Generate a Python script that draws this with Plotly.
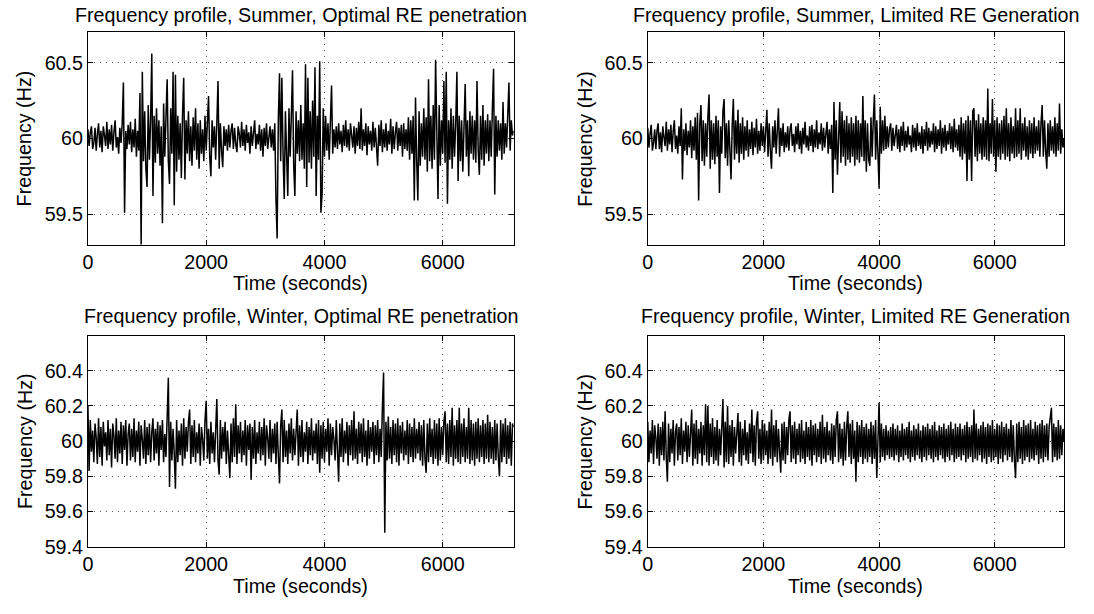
import plotly.graph_objects as go

FONT = "Liberation Sans, Arial, Helvetica, sans-serif"
STEP_S = 20  # sample spacing of the lists below, in seconds

summer_optimal = [
    60.06, 59.95, 60.04, 60.08, 59.93, 59.97, 60.07, 59.92, 60.03, 60.10,
    59.94, 60.05, 59.91, 60.08, 60.02, 59.95, 60.11, 59.93, 60.06, 59.96,
    60.09, 59.92, 60.04, 60.12, 59.94, 60.01, 59.90, 60.07, 59.97, 60.10,
    60.37, 59.51, 60.05, 59.93, 60.09, 59.96, 60.11, 59.91, 60.06, 59.94,
    60.13, 59.88, 60.05, 59.92, 60.30, 59.28, 60.44, 59.85, 60.18, 59.80,
    59.68, 60.22, 59.86, 60.12, 60.56, 59.62, 60.15, 59.84, 60.20, 59.90,
    60.12, 59.82, 60.08, 59.44, 60.23, 59.88, 60.14, 60.39, 59.85, 59.70,
    60.20, 59.90, 60.44, 59.56, 60.42, 59.78, 60.15, 59.86, 60.10, 59.74,
    60.16, 60.40, 59.73, 60.12, 59.90, 60.18, 59.85, 60.08, 59.82, 60.14,
    59.92, 60.20, 59.86, 60.10, 59.80, 60.12, 59.90, 60.06, 59.85, 60.15,
    59.92, 60.09, 60.28, 59.88, 59.75, 60.12, 59.94, 60.08, 59.86, 60.10,
    60.38, 59.80, 60.10, 59.92, 59.81, 60.08, 59.95, 60.06, 59.92, 60.09,
    59.94, 60.05, 60.10, 59.93, 60.07, 59.96, 59.91, 60.08, 60.03, 59.94,
    60.11, 59.95, 60.06, 59.92, 60.09, 59.97, 60.04, 59.90, 60.08, 59.95,
    60.05, 60.12, 59.93, 60.03, 59.96, 60.09, 59.92, 60.06, 59.88, 60.07,
    59.95, 60.10, 59.93, 60.04, 60.08, 59.94, 60.06, 59.92, 60.10, 59.60,
    59.34, 60.12, 60.43, 59.85, 60.40, 59.90, 59.60, 60.18, 59.86, 59.62,
    60.20, 59.88, 60.15, 60.45, 59.82, 59.62, 60.18, 59.90, 60.12, 59.85,
    60.22, 59.86, 60.10, 59.80, 60.49, 59.68, 60.40, 59.84, 60.18, 59.80,
    60.25, 59.88, 60.47, 59.62, 60.15, 59.86, 60.51, 59.51, 59.63, 60.20,
    59.88, 60.15, 59.92, 60.10, 59.86, 60.12, 60.35, 59.90, 60.06, 59.94,
    60.08, 59.93, 60.10, 59.96, 60.05, 59.91, 60.09, 59.95, 60.12, 59.94,
    60.06, 59.92, 60.10, 60.02, 59.94, 60.08, 59.90, 60.07, 59.95, 60.11,
    59.93, 60.20, 59.92, 60.06, 59.95, 60.10, 59.89, 60.08, 59.96, 60.05,
    59.92, 60.11, 59.94, 60.07, 59.93, 59.82, 60.09, 59.95, 60.12, 59.91,
    60.06, 59.94, 60.10, 59.92, 60.05, 59.96, 60.13, 59.90, 60.08, 59.93,
    60.04, 60.11, 59.92, 60.07, 59.95, 60.09, 59.88, 60.10, 59.93, 60.06,
    59.92, 60.14, 59.86, 60.12, 59.90, 60.15, 59.59, 60.27, 59.85, 59.59,
    60.18, 59.82, 60.10, 59.88, 60.20, 59.86, 60.14, 59.78, 60.39, 59.85,
    60.15, 59.80, 60.22, 59.86, 60.52, 59.88, 59.60, 60.22, 59.82, 60.12,
    59.90, 60.38, 59.84, 60.44, 59.57, 60.12, 59.86, 60.20, 59.80, 60.15,
    59.88, 60.10, 60.44, 59.72, 60.15, 59.85, 60.12, 59.78, 60.20, 60.36,
    59.88, 60.12, 59.75, 60.18, 59.90, 60.15, 59.86, 60.12, 59.84, 60.38,
    59.92, 59.76, 60.15, 59.86, 60.22, 59.82, 60.12, 59.90, 60.16, 59.85,
    60.12, 59.88, 60.20, 60.46, 59.63, 60.15, 59.88, 60.12, 59.92, 60.10,
    59.86, 60.24, 59.90, 60.10, 59.94, 60.15, 60.37, 59.92, 60.12, 60.02,
    60.05,
]

summer_limited = [
    60.07, 59.94, 60.03, 60.09, 59.92, 59.97, 60.06, 59.93, 60.05, 60.10,
    59.93, 60.04, 59.91, 60.08, 60.01, 59.95, 60.11, 59.92, 60.06, 59.96,
    60.09, 59.91, 60.05, 60.12, 59.93, 60.02, 59.90, 60.08, 59.95, 60.20,
    59.73, 60.06, 59.92, 60.10, 59.89, 60.05, 59.94, 60.12, 59.87, 60.08,
    59.92, 60.14, 59.86, 60.17, 59.59, 60.10, 60.22, 59.85, 60.12, 59.82,
    60.10, 59.88, 60.14, 60.29, 59.80, 60.12, 59.86, 60.10, 59.83, 60.15,
    59.88, 60.12, 59.64, 60.08, 59.90, 60.18, 60.26, 59.87, 60.10, 59.82,
    60.12, 59.88, 59.73, 60.08, 60.26, 59.86, 60.12, 59.90, 60.19, 59.84,
    60.10, 59.90, 60.14, 59.86, 60.08, 59.92, 60.12, 59.88, 60.06, 59.93,
    60.11, 59.89, 60.07, 59.94, 60.13, 59.90, 60.05, 59.92, 60.10, 59.95,
    60.08, 59.91, 60.06, 60.19, 59.88, 60.10, 59.92, 59.80, 60.08, 59.94,
    60.12, 59.90, 60.05, 60.20, 59.88, 60.07, 59.95, 60.10, 59.91, 60.04,
    59.94, 60.08, 59.92, 60.06, 60.10, 59.95, 60.03, 59.91, 60.08, 59.96,
    60.10, 59.93, 60.05, 59.90, 60.07, 59.96, 60.11, 59.94, 60.02, 59.92,
    60.08, 59.95, 60.09, 59.91, 60.06, 59.94, 60.12, 59.93, 60.04, 59.96,
    60.10, 59.92, 60.07, 59.94, 60.03, 60.11, 59.90, 60.06, 59.93, 60.09,
    59.64, 60.24, 59.86, 60.12, 59.76, 60.10, 60.24, 59.84, 60.18, 59.88,
    60.12, 59.82, 60.15, 59.86, 60.10, 59.84, 60.14, 59.88, 60.10, 59.82,
    60.15, 59.86, 60.12, 59.84, 60.10, 59.88, 60.28, 59.85, 60.12, 59.78,
    60.10, 59.86, 59.82, 60.14, 59.88, 60.12, 60.29, 59.86, 60.12, 59.90,
    59.67, 60.21, 59.90, 60.12, 59.92, 60.15, 59.93, 60.08, 59.94, 60.06,
    60.10, 59.92, 60.07, 59.95, 60.03, 60.09, 59.93, 60.06, 59.91, 60.08,
    59.95, 60.11, 59.92, 60.05, 59.94, 60.08, 59.96, 60.02, 59.91, 60.09,
    59.94, 60.07, 59.92, 60.10, 59.95, 60.04, 59.93, 60.08, 59.90, 60.06,
    59.95, 60.11, 59.92, 60.07, 59.94, 60.05, 59.96, 60.10, 59.91, 60.08,
    59.93, 60.06, 59.95, 60.12, 59.90, 60.07, 59.94, 60.09, 59.92, 60.05,
    59.96, 60.10, 59.93, 60.08, 59.91, 60.13, 59.94, 60.06, 59.92, 60.09,
    59.88, 60.14, 59.86, 60.10, 59.90, 60.12, 59.72, 60.15, 59.86, 60.12,
    59.72, 60.18, 60.20, 59.88, 60.12, 59.85, 60.16, 59.90, 60.10, 59.86,
    60.14, 59.88, 60.12, 59.86, 60.33, 59.85, 60.10, 59.90, 60.26, 59.88,
    60.12, 59.78, 60.14, 59.88, 60.10, 59.86, 60.12, 59.90, 60.15, 59.86,
    60.20, 59.88, 60.10, 59.85, 60.14, 59.90, 60.08, 59.87, 60.20, 59.88,
    60.12, 59.90, 60.20, 59.86, 60.10, 59.92, 60.14, 59.88, 60.08, 59.86,
    60.12, 59.90, 60.10, 59.87, 60.14, 59.90, 60.08, 59.92, 60.12, 59.88,
    60.10, 60.22, 59.88, 60.12, 59.92, 59.80, 60.10, 59.88, 60.12, 59.92,
    60.08, 59.90, 60.14, 59.88, 60.10, 59.92, 60.23, 59.90, 60.06, 59.94,
    60.00,
]

winter_optimal = [
    60.20, 59.83, 60.12, 59.94, 60.06, 59.88, 60.10, 60.02, 59.87, 60.13,
    59.91, 60.08, 59.86, 60.11, 59.97, 60.05, 59.89, 60.12, 59.92, 60.07,
    59.85, 60.10, 60.03, 59.90, 60.13, 59.88, 60.06, 59.93, 60.11, 59.87,
    60.09, 59.95, 60.12, 59.86, 60.04, 60.10, 59.89, 60.07, 59.91, 60.13,
    59.88, 60.06, 59.94, 60.11, 59.86, 60.09, 60.01, 59.90, 60.12, 59.87,
    60.08, 59.92, 60.10, 59.88, 60.05, 60.13, 59.89, 60.07, 59.93, 60.11,
    59.86, 60.09, 59.95, 60.12, 59.88, 60.04, 59.91, 60.10, 60.36, 59.74,
    60.11, 59.89, 60.07, 59.93, 59.73, 60.12, 59.88, 60.06, 59.92, 60.10,
    59.86, 60.13, 59.90, 60.08, 59.94, 60.11, 60.18, 59.87, 60.09, 59.91,
    60.12, 59.88, 60.05, 59.93, 60.10, 59.86, 60.08, 60.01, 59.89, 60.12,
    60.23, 59.90, 60.07, 59.87, 60.11, 59.93, 60.05, 59.88, 60.10, 60.24,
    59.89, 59.81, 60.12, 59.90, 60.08, 59.94, 60.11, 59.87, 60.06, 59.92,
    59.79, 60.10, 59.88, 60.13, 59.91, 60.21, 59.87, 60.09, 59.93, 60.11,
    59.88, 60.06, 59.92, 60.12, 59.86, 60.09, 59.95, 60.10, 59.78, 60.08,
    59.90, 60.12, 59.87, 60.05, 59.93, 60.11, 59.89, 60.08, 59.92, 60.13,
    59.86, 60.09, 60.02, 59.90, 60.12, 59.88, 60.07, 59.93, 60.10, 59.87,
    60.11, 59.92, 59.76, 60.09, 60.18, 59.88, 60.12, 59.91, 60.06, 59.87,
    60.10, 59.93, 60.13, 59.89, 60.07, 59.92, 60.11, 60.18, 59.86, 60.09,
    59.91, 60.12, 59.88, 60.05, 59.94, 60.11, 59.87, 60.08, 59.92, 60.13,
    59.89, 60.06, 59.93, 60.10, 59.87, 60.12, 59.82, 60.09, 59.90, 60.11,
    59.88, 60.07, 59.94, 60.13, 59.86, 60.10, 59.92, 60.08, 60.01, 59.89,
    60.12, 59.87, 59.77, 60.10, 59.91, 60.13, 59.88, 60.06, 59.93, 60.11,
    59.86, 60.09, 59.92, 60.12, 59.89, 60.17, 59.90, 60.07, 59.87, 60.11,
    59.93, 60.10, 59.88, 60.13, 59.91, 60.06, 59.86, 60.12, 59.90, 60.08,
    59.94, 60.11, 59.87, 60.09, 59.92, 60.12, 59.88, 60.07, 59.91, 60.19,
    60.39, 59.48, 60.11, 59.89, 60.14, 59.90, 60.08, 59.87, 60.12, 59.92,
    60.10, 59.88, 60.13, 59.86, 60.09, 59.93, 60.11, 59.89, 60.06, 59.92,
    60.12, 59.87, 60.10, 59.91, 60.08, 59.88, 60.13, 59.90, 60.07, 59.93,
    60.11, 59.89, 60.09, 59.86, 60.12, 59.90, 59.82, 60.10, 59.88, 60.13,
    59.91, 60.07, 59.87, 60.12, 59.90, 60.10, 59.86, 60.13, 59.89, 60.08,
    59.92, 60.11, 60.17, 59.88, 60.10, 59.87, 60.12, 59.91, 60.19, 59.86,
    60.09, 59.90, 60.12, 59.88, 60.19, 59.87, 60.10, 59.91, 60.13, 59.88,
    60.08, 59.90, 60.19, 59.87, 60.12, 59.89, 60.10, 59.86, 60.11, 59.90,
    60.13, 59.88, 60.09, 59.91, 60.12, 59.87, 60.10, 59.90, 60.15, 59.88,
    60.11, 59.90, 60.08, 59.87, 60.12, 59.89, 60.10, 59.91, 59.80, 60.12,
    59.88, 60.10, 59.91, 60.13, 59.87, 60.09, 59.90, 60.11, 59.86, 60.10,
    60.08,
]

winter_limited = [
    60.11, 59.88, 60.06, 59.93, 60.12, 59.87, 60.09, 60.02, 59.90, 60.10,
    59.86, 60.08, 59.92, 60.11, 59.89, 60.17, 59.91, 59.77, 60.10, 59.88,
    60.07, 59.93, 60.12, 59.86, 60.05, 60.10, 59.89, 60.08, 59.92, 60.13,
    59.87, 60.06, 59.94, 60.11, 59.88, 60.09, 59.91, 60.04, 60.18, 59.86,
    60.10, 59.90, 60.12, 59.87, 60.07, 59.93, 60.11, 59.86, 60.09, 59.92,
    60.21, 59.88, 60.20, 59.86, 60.10, 59.91, 60.13, 59.87, 60.08, 59.89,
    60.12, 59.86, 60.07, 59.92, 60.10, 60.24, 59.85, 60.11, 59.88, 60.20,
    59.87, 60.09, 59.91, 60.12, 59.86, 60.08, 59.93, 60.10, 60.16, 59.88,
    60.11, 59.86, 60.07, 59.92, 60.12, 59.89, 60.05, 59.87, 60.10, 59.93,
    60.18, 59.88, 60.09, 59.86, 60.11, 60.17, 59.90, 60.07, 59.87, 60.12,
    59.89, 60.10, 59.92, 60.06, 59.87, 60.11, 59.90, 60.18, 59.86, 60.09,
    59.91, 60.12, 59.88, 60.07, 59.93, 59.82, 60.10, 59.89, 60.11, 59.87,
    60.08, 59.92, 60.12, 60.17, 59.88, 60.09, 59.90, 60.11, 59.87, 60.07,
    59.92, 60.10, 59.88, 60.12, 59.90, 60.06, 59.87, 60.11, 59.91, 60.08,
    59.89, 60.12, 59.86, 60.09, 59.92, 60.10, 59.88, 60.07, 59.91, 60.11,
    59.87, 60.15, 59.90, 60.08, 59.88, 60.11, 59.92, 60.06, 59.89, 60.10,
    59.87, 60.09, 59.91, 60.12, 60.17, 59.88, 60.10, 59.90, 60.07, 59.86,
    60.11, 59.89, 60.08, 60.17, 59.91, 60.10, 59.87, 60.12, 59.90, 60.06,
    59.77, 60.11, 59.88, 60.09, 59.91, 60.12, 59.87, 60.08, 59.90, 60.10,
    59.88, 60.07, 59.91, 60.11, 59.87, 60.09, 59.90, 60.12, 59.79, 60.08,
    60.22, 59.88, 60.10, 59.91, 60.07, 59.89, 60.09, 59.92, 60.06, 59.90,
    60.08, 59.91, 60.10, 59.89, 60.07, 59.92, 60.09, 59.88, 60.06, 59.91,
    60.10, 59.89, 60.07, 59.92, 60.08, 59.90, 60.11, 59.88, 60.06, 59.91,
    60.09, 59.89, 60.07, 59.92, 60.10, 59.90, 60.06, 59.88, 60.09, 59.91,
    60.08, 59.89, 60.10, 59.92, 60.07, 59.90, 60.09, 59.88, 60.11, 59.91,
    60.06, 59.89, 60.09, 59.92, 60.08, 59.90, 60.10, 59.88, 60.07, 59.91,
    60.09, 59.89, 60.11, 59.92, 60.07, 59.88, 60.10, 59.90, 60.08, 59.91,
    60.10, 59.89, 60.07, 59.92, 60.09, 59.88, 60.11, 59.90, 60.08, 59.91,
    60.09, 59.88, 60.18, 59.90, 60.10, 59.89, 60.07, 59.92, 60.09, 59.88,
    60.11, 59.90, 60.08, 59.87, 60.10, 59.91, 60.09, 59.88, 60.12, 59.89,
    60.07, 59.91, 60.10, 59.87, 60.09, 59.90, 60.11, 59.88, 60.08, 59.92,
    60.10, 59.89, 60.07, 59.91, 60.12, 59.88, 60.09, 59.90, 59.79, 60.10,
    59.88, 60.11, 59.90, 60.08, 59.87, 60.12, 59.89, 60.09, 59.91, 60.10,
    59.88, 60.12, 59.90, 60.07, 59.89, 60.11, 59.92, 60.09, 59.87, 60.10,
    59.90, 60.12, 59.88, 60.09, 59.91, 60.10, 59.89, 60.08, 60.13, 60.19,
    59.88, 60.10, 59.91, 60.08, 59.89, 60.12, 59.90, 60.09, 59.92, 60.07,
    60.00,
]

titles = [
    "Frequency profile, Summer, Optimal RE penetration",
    "Frequency profile, Summer, Limited RE Generation",
    "Frequency profile, Winter, Optimal RE penetration",
    "Frequency profile, Winter, Limited RE Generation",
]
x_label = "Time (seconds)"
y_label = "Frequency (Hz)"
x_ticks = [0, 2000, 4000, 6000]
x_ticktext = ["0", "2000", "4000", "6000"]
x_range = [0, 7200]
summer_yticks = [59.5, 60, 60.5]
summer_ytext = ["59.5", "60", "60.5"]
summer_range = [59.3, 60.7]
winter_yticks = [59.4, 59.6, 59.8, 60, 60.2, 60.4]
winter_ytext = ["59.4", "59.6", "59.8", "60", "60.2", "60.4"]
winter_range = [59.4, 60.6]

W, H = 1094, 614
FS = 19.7
# pixel boxes: left, right, top, bottom
boxes = [
    (83.3, 511, 33, 249),
    (645.7, 1064, 33, 249),
    (83.3, 511, 341.7, 556.7),
    (645.7, 1064, 341.7, 556.7),
]
series = [summer_optimal, summer_limited, winter_optimal, winter_limited]
yconf = [
    (summer_range, summer_yticks, summer_ytext),
    (summer_range, summer_yticks, summer_ytext),
    (winter_range, winter_yticks, winter_ytext),
    (winter_range, winter_yticks, winter_ytext),
]

fig = go.Figure()
layout = dict(
    width=W, height=H,
    margin=dict(l=0, r=0, t=0, b=0),
    paper_bgcolor="white", plot_bgcolor="white",
    showlegend=False,
    font=dict(family=FONT, size=FS, color="black"),
)
annotations = []
tickfont = dict(family=FONT, size=FS, color="black")
for i in range(4):
    n = i + 1
    xa = "x" if n == 1 else f"x{n}"
    ya = "y" if n == 1 else f"y{n}"
    l, r, t, b = boxes[i]
    xd = [l / W, r / W]
    yd = [1 - b / H, 1 - t / H]
    yr, yt, ytt = yconf[i]
    vals = series[i]
    times = [k * STEP_S for k in range(len(vals))]
    fig.add_trace(go.Scatter(
        x=times, y=vals, mode="lines",
        line=dict(color="black", width=1.5),
        xaxis=xa, yaxis=ya, hoverinfo="skip",
    ))
    common = dict(
        ticks="inside", ticklen=5, tickcolor="black", tickwidth=1,
        showline=True, linecolor="black", linewidth=1, mirror="ticks",
        showgrid=True, gridcolor="#555555", gridwidth=1, griddash="1px,5px",
        zeroline=False, tickfont=tickfont, fixedrange=True,
    )
    layout["xaxis" if n == 1 else f"xaxis{n}"] = dict(
        domain=xd, range=x_range, tickvals=x_ticks, ticktext=x_ticktext,
        anchor=ya, **common,
    )
    layout["yaxis" if n == 1 else f"yaxis{n}"] = dict(
        domain=yd, range=yr, tickvals=yt, ticktext=ytt,
        anchor=xa, **common,
    )
    cx = (l + r) / 2 / W
    title_y = 15 if t < 100 else 322
    annotations.append(dict(
        text=titles[i], x=cx, y=1 - title_y / H, xref="paper", yref="paper",
        xanchor="center", yanchor="middle", showarrow=False,
        font=dict(family=FONT, size=FS, color="black"),
    ))
    xl_y = 288 if t < 100 else 597
    annotations.append(dict(
        text=x_label, x=cx, y=1 - xl_y / H, xref="paper", yref="paper",
        xanchor="center", yanchor="middle", showarrow=False,
        font=dict(family=FONT, size=FS, color="black"),
    ))
    yl_x = 20 if l < 300 else 583
    annotations.append(dict(
        text=y_label, x=yl_x / W, y=1 - ((t + b) / 2) / H, xref="paper", yref="paper",
        xanchor="center", yanchor="middle", showarrow=False, textangle=-90,
        font=dict(family=FONT, size=FS, color="black"),
    ))

layout["annotations"] = annotations
fig.update_layout(**layout)
fig.write_html(
    "out.html",
    config={"displayModeBar": False, "staticPlot": True},
    post_script="document.body.style.margin='0';",
)
